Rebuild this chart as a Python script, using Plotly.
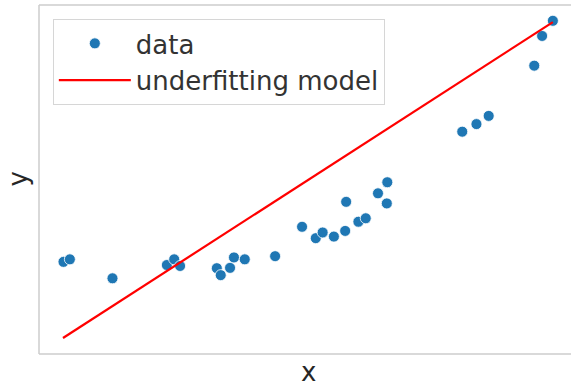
import plotly.graph_objects as go

# data
x_data = [0.01, 0.14, 1.01, 2.12, 2.27, 2.39, 3.14, 3.22, 3.41, 3.49, 3.71, 4.33,
          4.88, 5.16, 5.30, 5.53, 5.76, 5.78, 6.03, 6.18, 6.43, 6.62, 6.61,
          8.15, 8.44, 8.69, 9.62, 9.78, 10.0]
y_data = [2.41, 2.49, 1.89, 2.31, 2.49, 2.28, 2.21, 1.99, 2.22, 2.55, 2.49, 2.59,
          3.52, 3.16, 3.34, 3.21, 3.39, 4.31, 3.68, 3.79, 4.58, 4.93, 4.26,
          6.53, 6.77, 7.03, 8.62, 9.56, 10.04]
x_model = [0.0, 10.0]
y_model = [0.0, 10.0]

W, H = 571, 386
L, R, T, B = 39, 0, 5, 32
FONT = "DejaVu Sans"
TXT = "#262626"

fig = go.Figure()
fig.add_trace(go.Scatter(
    x=x_data, y=y_data, mode="markers", name="data",
    marker=dict(color="#1f77b4", size=11, line=dict(color="white", width=0.8)),
))
fig.add_trace(go.Scatter(
    x=x_model, y=y_model, mode="lines", name="underfitting model",
    line=dict(color="#ff0000", width=2.2),
))

frame = "#cccccc"
shapes = [
    dict(type="line", xref="paper", yref="paper", x0=0, x1=0, y0=0, y1=1,
         line=dict(color=frame, width=1.5)),
    dict(type="line", xref="paper", yref="paper", x0=0, x1=1, y0=1, y1=1,
         line=dict(color=frame, width=1.5)),
    dict(type="line", xref="paper", yref="paper", x0=0, x1=1, y0=0, y1=0,
         line=dict(color=frame, width=1.5)),
]

fig.update_layout(
    width=W, height=H,
    margin=dict(l=L, r=R, t=T, b=B, pad=0),
    paper_bgcolor="white", plot_bgcolor="white",
    font=dict(family=FONT, color=TXT, size=26),
    xaxis=dict(range=[-0.49, 10.37], showgrid=False, zeroline=False,
               showticklabels=False, ticks="", showline=False),
    yaxis=dict(range=[-0.506, 10.54], showgrid=False, zeroline=False,
               showticklabels=False, ticks="", showline=False),
    shapes=shapes,
    showlegend=True,
    legend=dict(x=0.026, y=0.96, xanchor="left", yanchor="top",
                bgcolor="rgba(255,255,255,0.8)", bordercolor="#d6d6d6", borderwidth=1,
                font=dict(family=FONT, size=26, color="#333333"),
                itemwidth=72, tracegroupgap=0),
    annotations=[
        dict(text="x", xref="paper", yref="paper", x=0.5075, y=0, yshift=-18,
             xanchor="center", yanchor="middle", showarrow=False,
             font=dict(family=FONT, size=26, color=TXT)),
        dict(text="y", xref="paper", yref="paper", x=0, y=0.5, xshift=-22,
             xanchor="center", yanchor="middle", showarrow=False, textangle=-90,
             font=dict(family=FONT, size=26, color=TXT)),
    ],
)

fig.write_html("out.html")
